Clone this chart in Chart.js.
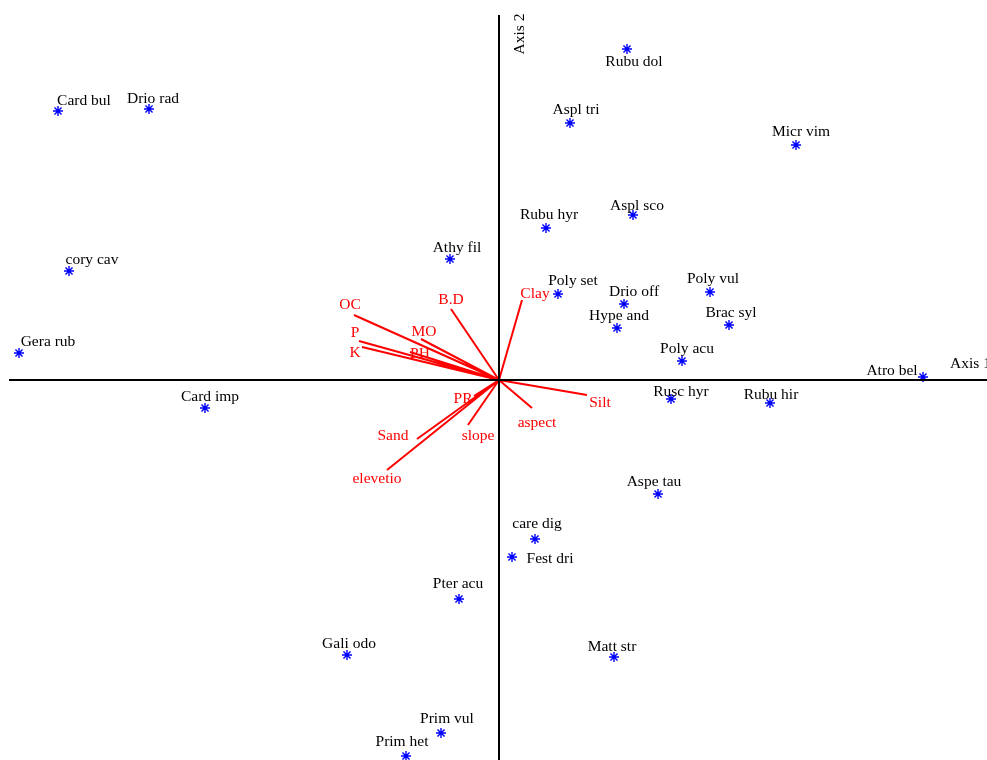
<!DOCTYPE html>
<html>
<head>
<meta charset="utf-8">
<script src="https://cdn.jsdelivr.net/npm/chart.js@4"></script>
<style>
    html, body { margin: 0; padding: 0; background: #fff; }
    #wrap { width: 987px; height: 760px; position: relative; }
</style>
</head>
<body>
<div id="wrap"><canvas id="chart"></canvas></div>
<script>
// species scores on the two ordination axes
const speciesNames = ["Rubu dol", "Aspl tri", "Micr vim", "Card bul", "Drio rad", "Rubu hyr", "Aspl sco",
    "Athy fil", "cory cav", "Poly set", "Drio off", "Poly vul", "Hype and", "Brac syl", "Poly acu",
    "Gera rub", "Atro bel", "Card imp", "Rusc hyr", "Rubu hir", "Aspe tau", "care dig", "Fest dri",
    "Pter acu", "Gali odo", "Matt str", "Prim vul", "Prim het"]
const speciesAxis1 = [1.28, 0.71, 2.97, -4.41, -3.50, 0.47, 1.34, -0.49, -4.30, 0.59, 1.25, 2.11, 1.18, 2.30, 1.83,
    -4.80, 4.24, -2.94, 1.72, 2.71, 1.59, 0.36, 0.13, -0.40, -1.52, 1.15, -0.58, -0.93]
const speciesAxis2 = [3.31, 2.57, 2.35, 2.69, 2.71, 1.52, 1.65, 1.21, 1.09, 0.86, 0.76, 0.88, 0.52, 0.55, 0.19,
    0.27, 0.03, -0.28, -0.19, -0.23, -1.14, -1.59, -1.77, -2.19, -2.75, -2.77, -3.53, -3.76]

// environmental variable vectors
const envNames = ["OC", "B.D", "MO", "P", "K", "PH", "PR", "Sand", "elevetio", "slope", "aspect", "Silt", "Clay"]
const envAxis1 = [-1.45, -0.48, -0.78, -1.40, -1.37, -0.89, -0.25, -0.82, -1.12, -0.31, 0.33, 0.88, 0.23]
const envAxis2 = [0.65, 0.71, 0.41, 0.39, 0.33, 0.28, -0.16, -0.59, -0.90, -0.45, -0.28, -0.15, 0.80]

// plot window and axis line extents
const xRange = [-4.99, 4.88]
const yRange = [-3.80, 3.80]
const axis1Line = [-4.90, 4.88]
const axis2Line = [-3.80, 3.65]

// label placement in pixels (dx, dy from the mark)
const labelShift = {
    "Rubu dol": [7, 11], "Aspl tri": [6, -15], "Micr vim": [5, -15], "Card bul": [26, -12], "Drio rad": [4, -12],
    "Rubu hyr": [3, -15], "Aspl sco": [4, -11], "Athy fil": [7, -13], "cory cav": [23, -13], "Poly set": [15, -15],
    "Drio off": [10, -14], "Poly vul": [3, -15], "Hype and": [2, -14], "Brac syl": [2, -14], "Poly acu": [5, -14],
    "Gera rub": [29, -13], "Atro bel": [-31, -8], "Card imp": [5, -13], "Rusc hyr": [10, -9], "Rubu hir": [1, -10],
    "Aspe tau": [-4, -14], "care dig": [2, -17], "Fest dri": [38, 0], "Pter acu": [-1, -17], "Gali odo": [2, -13],
    "Matt str": [-2, -12], "Prim vul": [6, -16], "Prim het": [-4, -16]
}
const envShift = {
    "OC": [-4, -12], "B.D": [0, -11], "MO": [3, -9], "P": [-4, -10], "K": [-7, 4], "PH": [10, 0],
    "PR": [-11, 1], "Sand": [-24, -5], "elevetio": [-10, 7], "slope": [10, 9], "aspect": [5, 13],
    "Silt": [13, 6], "Clay": [13, -8]
}
const TEXT_DROP = 2

const FONT = "15.5px 'Liberation Serif', 'Times New Roman', serif"

// vectors go origin -> tip, gaps between them
const vectorPoints = []
envNames.forEach((n, i) => {
    vectorPoints.push({ x: 0, y: 0 }, { x: envAxis1[i], y: envAxis2[i] }, { x: null, y: null })
})

const labelPlugin = {
    id: "biplotLabels",
    afterDatasetsDraw(chart) {
        const ctx = chart.ctx
        const xs = chart.scales.x
        const ys = chart.scales.y
        ctx.save()
        ctx.font = FONT
        ctx.textAlign = "center"
        ctx.textBaseline = "middle"

        ctx.fillStyle = "#000"
        speciesNames.forEach((name, i) => {
            const s = labelShift[name] || [4, -14]
            ctx.fillText(name, xs.getPixelForValue(speciesAxis1[i]) + s[0],
                ys.getPixelForValue(speciesAxis2[i]) + s[1] + TEXT_DROP)
        })

        ctx.fillStyle = "#ff0000"
        envNames.forEach((name, i) => {
            const s = envShift[name] || [0, -10]
            ctx.fillText(name, xs.getPixelForValue(envAxis1[i]) + s[0],
                ys.getPixelForValue(envAxis2[i]) + s[1] + TEXT_DROP)
        })

        // axis titles
        ctx.fillStyle = "#000"
        ctx.textAlign = "left"
        ctx.fillText("Axis 1", xs.getPixelForValue(axis1Line[1]) - 37, ys.getPixelForValue(0) - 16)
        ctx.translate(xs.getPixelForValue(0) + 21, ys.getPixelForValue(axis2Line[1]) + 19)
        ctx.rotate(-Math.PI / 2)
        ctx.textAlign = "center"
        ctx.fillText("Axis 2", 0, 0)
        ctx.restore()
    }
}

new Chart(document.getElementById("chart"), {
    type: "scatter",
    data: {
        datasets: [
            {
                label: "axes",
                data: [{ x: axis1Line[0], y: 0 }, { x: axis1Line[1], y: 0 }, { x: null, y: null },
                       { x: 0, y: axis2Line[0] }, { x: 0, y: axis2Line[1] }],
                showLine: true,
                spanGaps: false,
                borderColor: "#000",
                borderWidth: 2,
                pointRadius: 0,
                clip: false
            },
            {
                label: "vectors",
                data: vectorPoints,
                showLine: true,
                spanGaps: false,
                borderColor: "#ff0000",
                borderWidth: 2,
                pointRadius: 0,
                clip: false
            },
            {
                label: "species",
                data: speciesNames.map((n, i) => ({ x: speciesAxis1[i], y: speciesAxis2[i] })),
                pointStyle: "star",
                pointRadius: 5,
                borderColor: "#0000ff",
                backgroundColor: "#0000ff",
                borderWidth: 1.4,
                clip: false
            }
        ]
    },
    options: {
        responsive: true,
        maintainAspectRatio: false,
        animation: false,
        layout: { padding: 0, autoPadding: false },
        plugins: { legend: { display: false }, tooltip: { enabled: false } },
        scales: {
            x: { type: "linear", min: xRange[0], max: xRange[1], display: false },
            y: { type: "linear", min: yRange[0], max: yRange[1], display: false }
        }
    },
    plugins: [labelPlugin]
})
</script>
</body>
</html>
